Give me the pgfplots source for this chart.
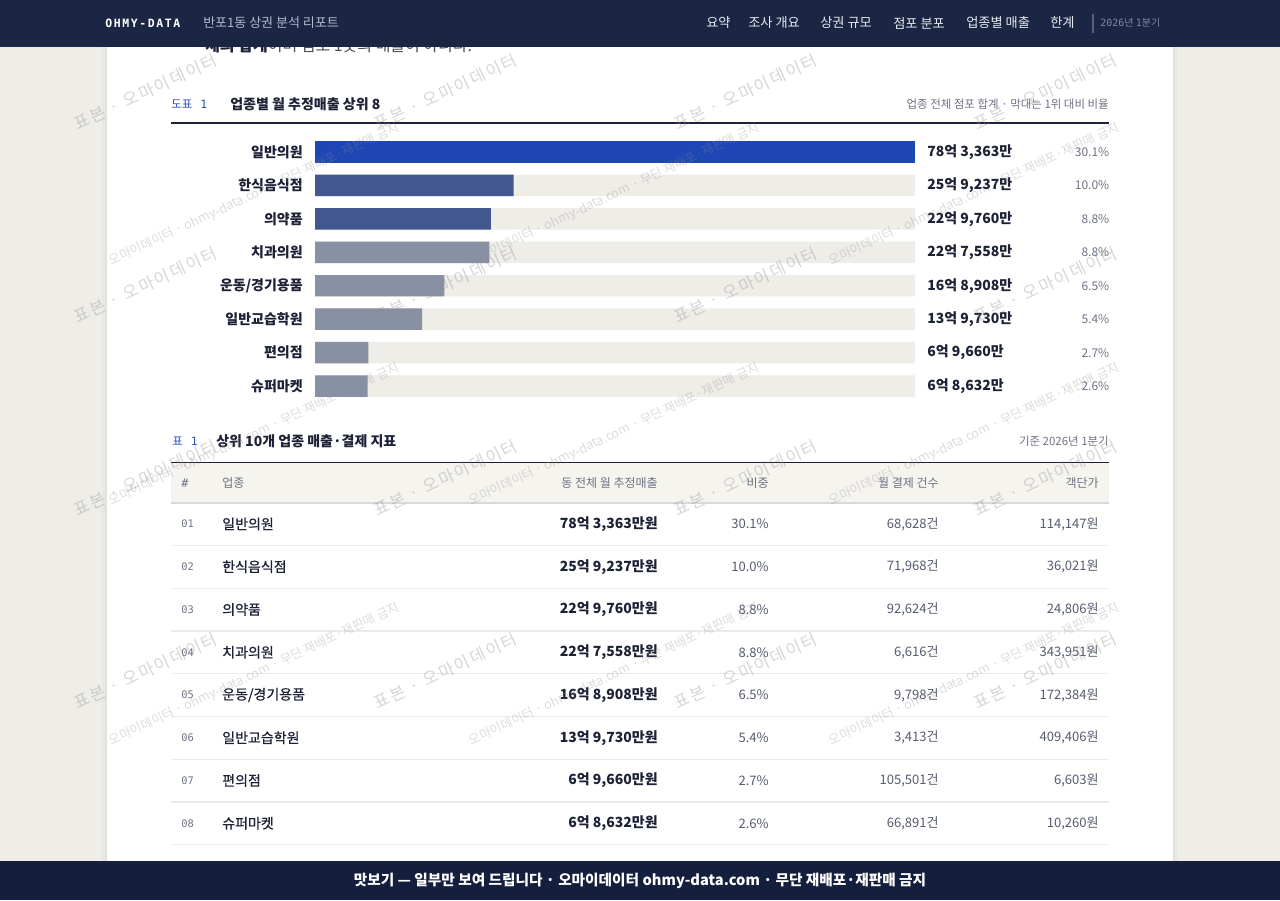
\documentclass[border=0pt]{standalone}
\usepackage{fontspec}
\setmainfont{Noto Sans CJK KR}
\newfontfamily\mono{DejaVu Sans Mono}
\usepackage{pgfplots}
\pgfplotsset{compat=1.18}

\definecolor{navy}{HTML}{1B2644}
\definecolor{footnavy}{HTML}{141F3D}
\definecolor{pagebg}{HTML}{EEEDE8}
\definecolor{ink}{HTML}{1C2135}
\definecolor{barA}{HTML}{1E47B5}
\definecolor{barB}{HTML}{42578D}
\definecolor{barC}{HTML}{8890A4}
\definecolor{track}{HTML}{EFEDE8}
\definecolor{accent}{HTML}{2B4FBF}
\definecolor{muted}{HTML}{6E7385}
\definecolor{cell}{HTML}{565C6E}
\definecolor{headbg}{HTML}{F5F4EF}
\definecolor{rowline}{HTML}{ECEAE4}
\definecolor{navtext}{HTML}{E6E9F0}
\definecolor{navsub}{HTML}{B3BACD}
\definecolor{navdim}{HTML}{7F889F}
\definecolor{wm}{HTML}{8C8C8C}

\newcommand\fs[1]{\fontsize{#1}{#1}\selectfont}

\begin{document}
\begin{tikzpicture}
\begin{scope}[x=0.75pt,y=-0.75pt]
\useasboundingbox (0,0) rectangle (1280,900);
\fill[pagebg] (0,0) rectangle (1280,900);
\fill[black,opacity=0.025] (102,0) rectangle (1177,900);
\fill[black,opacity=0.025] (105,0) rectangle (1175,900);
\fill[white] (107,0) rectangle (1173,900);

% text line cut by the header
\node[anchor=west,inner sep=0,text=black!70,font=\fs{12pt}] at (205,45)
  {\textcolor{ink}{\textbf{체의 합계}}이며 점포 1곳의 매출이 아니다.};

% chart heading
\node[anchor=west,inner sep=0,text=accent,font=\fs{8.6pt}] at (171,104) {도표\hspace{6pt}{\mono 1}};
\node[anchor=west,inner sep=0,text=ink,font=\bfseries\fs{10.5pt}] at (230,104) {업종별 월 추정매출 상위 8};
\node[anchor=east,inner sep=0,text=muted,font=\fs{8.6pt}] at (1109,104) {업종 전체 점포 합계 · 막대는 1위 대비 비율};
\draw[ink,line width=0.8pt] (171,123) -- (1109,123);

% table heading
\node[anchor=west,inner sep=0,text=accent,font=\fs{8.6pt}] at (172,441) {표\hspace{6pt}{\mono 1}};
\node[anchor=west,inner sep=0,text=ink,font=\bfseries\fs{10.5pt}] at (216,441) {상위 10개 업종 매출·결제 지표};
\node[anchor=east,inner sep=0,text=muted,font=\fs{8.6pt}] at (1109,441) {기준 2026년 1분기};
\fill[headbg] (171,463) rectangle (1109,503);
\draw[ink,line width=1pt] (171,462.5) -- (1109,462.5);
\draw[black!15,line width=0.8pt] (171,503) -- (1109,503);
\begin{scope}[every node/.style={inner sep=0,text=muted,font=\fs{9pt}}]
\node[anchor=west] at (181,483) {\mono\#};
\node[anchor=west] at (222,483) {업종};
\node[anchor=east] at (658,483) {동 전체 월 추정매출};
\node[anchor=east] at (769,483) {비중};
\node[anchor=east] at (939,483) {월 결제 건수};
\node[anchor=east] at (1099,483) {객단가};
\end{scope}

\foreach \n/\name/\sales/\pct/\cnt/\price [count=\i from 0] in {
  01/{일반의원}/{78억 3,363만원}/30.1\%/{68,628건}/{114,147원},
  02/{한식음식점}/{25억 9,237만원}/10.0\%/{71,968건}/{36,021원},
  03/{의약품}/{22억 9,760만원}/8.8\%/{92,624건}/{24,806원},
  04/{치과의원}/{22억 7,558만원}/8.8\%/{6,616건}/{343,951원},
  05/{운동/경기용품}/{16억 8,908만원}/6.5\%/{9,798건}/{172,384원},
  06/{일반교습학원}/{13억 9,730만원}/5.4\%/{3,413건}/{409,406원},
  07/{편의점}/{6억 9,660만원}/2.7\%/{105,501건}/{6,603원},
  08/{슈퍼마켓}/{6억 8,632만원}/2.6\%/{66,891건}/{10,260원}}
{
  \pgfmathsetmacro\ry{524+42.75*\i}
  \node[anchor=west,inner sep=0,text=muted,font=\mono\fs{7.8pt}] at (181,\ry) {\n};
  \node[anchor=west,inner sep=0,text=ink,font=\fs{10.5pt}\addfontfeature{FakeBold=0.6}] at (222,\ry) {\name};
  \node[anchor=east,inner sep=0,text=ink,font=\bfseries\fs{10.5pt}] at (658,\ry) {\sales};
  \node[anchor=east,inner sep=0,text=cell,font=\fs{9.8pt}] at (769,\ry) {\pct};
  \node[anchor=east,inner sep=0,text=cell,font=\fs{9.8pt}] at (939,\ry) {\cnt};
  \node[anchor=east,inner sep=0,text=cell,font=\fs{9.8pt}] at (1099,\ry) {\price};
  \draw[rowline,line width=0.8pt] (171,{\ry+21.5}) -- (1109,{\ry+21.5});
}
\end{scope}

% bar chart
\begin{axis}[
  at={(236.25pt,-101.5pt)}, anchor=north west,
  scale only axis, width=450pt, height=200.57pt,
  xmin=0, xmax=78.3363, ymin=-0.5, ymax=7.5,
  y dir=reverse, enlargelimits=false, clip=false,
  axis line style={draw=none},
  xtick=\empty, ytick={0,...,7},
  ytick style={draw=none}, major tick length=0pt,
  yticklabels={일반의원,한식음식점,의약품,치과의원,운동/경기용품,일반교습학원,편의점,슈퍼마켓},
  yticklabel style={font=\bfseries\fs{10.5pt},text=ink,inner sep=0pt,xshift=-9pt},
  xbar, bar width=16.1pt, bar shift=0pt,
]
\addplot[fill=track,draw=none,point meta=explicit symbolic,nodes near coords,
  nodes near coords style={anchor=west,inner sep=0pt,xshift=9pt,font=\bfseries\fs{10.5pt},text=ink}]
  coordinates {(78.3363,0) [78억 3,363만] (78.3363,1) [25억 9,237만] (78.3363,2) [22억 9,760만]
    (78.3363,3) [22억 7,558만] (78.3363,4) [16억 8,908만] (78.3363,5) [13억 9,730만]
    (78.3363,6) [6억 9,660만] (78.3363,7) [6억 8,632만]};
\addplot[fill=none,draw=none,point meta=explicit symbolic,nodes near coords,
  nodes near coords style={anchor=west,inner sep=0pt,xshift=100.5pt,text width=45pt,align=right,font=\fs{9pt},text=muted}]
  coordinates {(78.3363,0) [30.1\%] (78.3363,1) [10.0\%] (78.3363,2) [8.8\%]
    (78.3363,3) [8.8\%] (78.3363,4) [6.5\%] (78.3363,5) [5.4\%]
    (78.3363,6) [2.7\%] (78.3363,7) [2.6\%]};
\addplot[fill=barA,draw=none] coordinates {(78.3363,0)};
\addplot[fill=barB,draw=none] coordinates {(25.9237,1) (22.9760,2)};
\addplot[fill=barC,draw=none] coordinates {(22.7558,3) (16.8908,4) (13.9730,5) (6.9660,6) (6.8632,7)};
\end{axis}

\begin{scope}[x=0.75pt,y=-0.75pt]
\begin{scope}
\clip (0,0) rectangle (1280,900);
% watermarks
\foreach \wx in {75,375,675,975}
  \foreach \wy in {125,318,511,704}
    \node[rotate=25,anchor=west,inner sep=0,text=wm,text opacity=0.35,
      font=\fs{12.5pt}\addfontfeature{LetterSpace=12}] at (\wx,\wy) {표본 · 오마이데이터};
\foreach \wx in {110,470,830}
  \foreach \wy in {262,502,742}
    \node[rotate=25,anchor=west,inner sep=0,text=wm,text opacity=0.3,
      font=\fs{9.5pt}] at (\wx,\wy) {오마이데이터 · ohmy-data.com · 무단 재배포·재판매 금지};
\end{scope}

% header bar
\fill[navy] (0,0) rectangle (1280,47);
\node[anchor=west,inner sep=0,text=white,font=\mono\bfseries\fs{8.6pt}\addfontfeature{LetterSpace=14}] at (105,23) {OHMY-DATA};
\node[anchor=west,inner sep=0,text=navsub,font=\fs{9.75pt}] at (203,23) {반포1동 상권 분석 리포트};
\begin{scope}[every node/.style={anchor=west,inner sep=0,text=navtext,font=\fs{9.9pt}}]
\node at (706,23) {요약};
\node at (748,23) {조사 개요};
\node at (820,23) {상권 규모};
\node at (893,23) {점포 분포};
\node at (966,23) {업종별 매출};
\node at (1050,23) {한계};
\end{scope}
\draw[navdim!60!navy,line width=0.8pt] (1093,14) -- (1093,33);
\node[anchor=west,inner sep=0,text=navdim,font=\fs{7.5pt}] at (1100,23) {{\mono 2026}년 {\mono 1}분기};

% footer bar
\fill[footnavy] (0,861) rectangle (1280,900);
\node[inner sep=0,text=white,font=\bfseries\fs{11pt}] at (640,881)
  {맛보기 — 일부만 보여 드립니다 · 오마이데이터 ohmy-data.com · 무단 재배포·재판매 금지};
\end{scope}
\end{tikzpicture}
\end{document}
